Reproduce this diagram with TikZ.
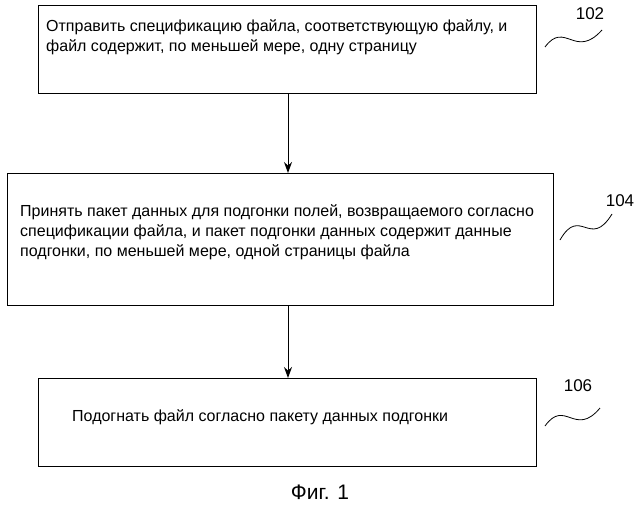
\documentclass[tikz,border=0pt]{standalone}
\usepackage{fontspec}
\setmainfont{Liberation Sans}
\usetikzlibrary{arrows.meta}
\begin{document}
\begin{tikzpicture}[x=1pt,y=-1pt,
  boxx/.style={draw,line width=1.2pt},
  txt/.style={anchor=west,align=left,inner sep=0pt,font=\fontsize{16}{20}\selectfont},
  lab/.style={font=\fontsize{17}{19}\selectfont},
  arr/.style={-{Stealth[length=11pt,width=8pt]},line width=1pt},
  sq/.style={line width=0.8pt}]
\useasboundingbox (0,0) rectangle (640,509);
\node[boxx,minimum width=498,minimum height=88,anchor=north west] (b1) at (38,5) {};
\node[boxx,minimum width=546,minimum height=132,anchor=north west] (b2) at (7,173) {};
\node[boxx,minimum width=498,minimum height=88,anchor=north west] (b3) at (38,378) {};
\node[txt] (t1) at (46,37) {Отправить спецификацию файла, соответствующую файлу, и\\файл содержит, по меньшей мере, одну страницу};
\node[txt] (t2) at (20,232) {Принять пакет данных для подгонки полей, возвращаемого согласно\\спецификации файла, и пакет подгонки данных содержит данные\\подгонки, по меньшей мере, одной страницы файла};
\node[txt] (t3) at (72,417) {Подогнать файл согласно пакету данных подгонки};
\draw[arr] (b1.south -| 288,0) -- (b2.north -| 288,0);
\draw[arr] (b2.south -| 288,0) -- (b3.north -| 288,0);
\node[lab] (l1) at (590,14) {102};
\node[lab] (l2) at (620,201) {104};
\node[lab] (l3) at (578,386) {106};
\coordinate (s1a) at (545,47); \coordinate (s1b) at (602,30);
\coordinate (s2a) at (560,240); \coordinate (s2b) at (612,214);
\coordinate (s3a) at (545,426); \coordinate (s3b) at (600,408);
\draw[sq] (s1a) .. controls (565,20) and (575,60) .. (s1b);
\draw[sq] (s2a) .. controls (580,205) and (590,250) .. (s2b);
\draw[sq] (s3a) .. controls (565,398) and (575,438) .. (s3b);
\node[font=\fontsize{21}{24}\selectfont] (cap) at (320,492) {Фиг. 1};
\end{tikzpicture}
\end{document}
